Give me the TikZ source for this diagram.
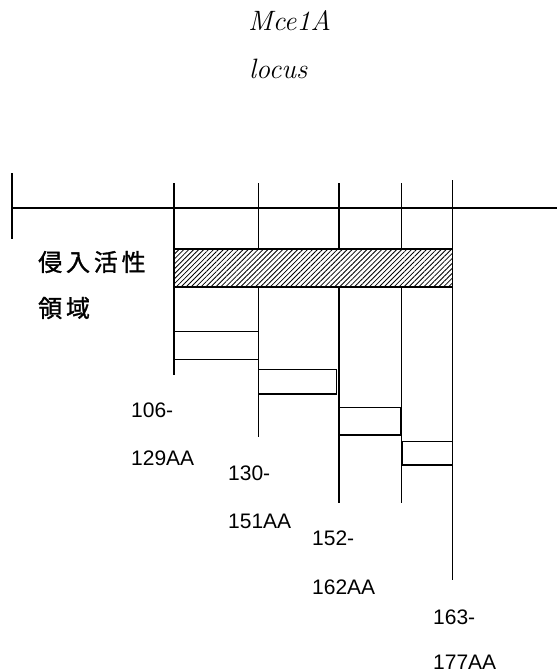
\documentclass[tikz,border=0pt]{standalone}
\usepackage{fontspec}
\newfontfamily\arialfont{Liberation Sans}
\newfontfamily\cjk[LetterSpace=16,FakeBold=1.2]{Noto Sans CJK JP}
\usetikzlibrary{patterns.meta}
\tikzset{
  ln/.style={line width=1.5pt},
  seg/.style={draw, line width=1.5pt, fill=white},
  num/.style={anchor=west, inner sep=0pt, font=\arialfont\fontsize{21}{21}\selectfont},
  ttl/.style={anchor=base west, inner sep=0pt, font=\fontsize{28}{28}\selectfont\itshape},
  jp/.style={anchor=west, inner sep=0pt, font=\cjk\fontsize{24}{24}\selectfont}
}
\begin{document}
\begin{tikzpicture}[x=1pt,y=-1pt]
\useasboundingbox (0,0) rectangle (557,671);
% titles
\node[ttl] (t1) at (248,30.7) {Mce1A};
\node[ttl] (t2) at (249,78.3) {locus};
% axis
\coordinate (aL) at (12,208);
\coordinate (aR) at (557,208);
\draw[ln] (aL) -- (aR);
\draw[ln] (12,173) -- (12,239);
% verticals
\coordinate (v1t) at (174,183);   \coordinate (v1b) at (174,375);
\coordinate (v2t) at (258.7,183); \coordinate (v2b) at (258.7,437);
\coordinate (v3t) at (339,183);   \coordinate (v3b) at (339,503);
\coordinate (v4t) at (401.7,183); \coordinate (v4b) at (401.7,503);
\coordinate (v5t) at (452.6,180); \coordinate (v5b) at (452.6,580);
\draw[ln] (v1t) -- (v1b);
\draw[ln] (v2t) -- (v2b);
\draw[ln] (v3t) -- (v3b);
\draw[ln] (v4t) -- (v4b);
\draw[ln] (v5t) -- (v5b);
% hatched bar
\fill[white] (174,249) rectangle (452.6,287);
\draw[ln, pattern={Lines[angle=45,distance=3.5pt,line width=0.8pt]}] (174,249) rectangle (452.6,287);
% segments
\draw[seg] (174,331.7) rectangle (258.7,359.3);
\draw[seg] (258.7,369.3) rectangle (336.7,394);
\draw[seg] (339,407.7) rectangle (400.7,435);
\draw[seg] (402.3,441.3) rectangle (452.6,465);
% labels
\node[jp] (j1) at (38,262) {侵入活性};
\node[jp] (j2) at (38,308) {領域};
\node[num] (n1) at (131,410) {106-};
\node[num] (n2) at (131,458) {129AA};
\node[num] (n3) at (228,473) {130-};
\node[num] (n4) at (228,521) {151AA};
\node[num] (n5) at (312,538) {152-};
\node[num] (n6) at (312,587) {162AA};
\node[num] (n7) at (433,617) {163-};
\node[num] (n8) at (433,662) {177AA};
\end{tikzpicture}
\end{document}
